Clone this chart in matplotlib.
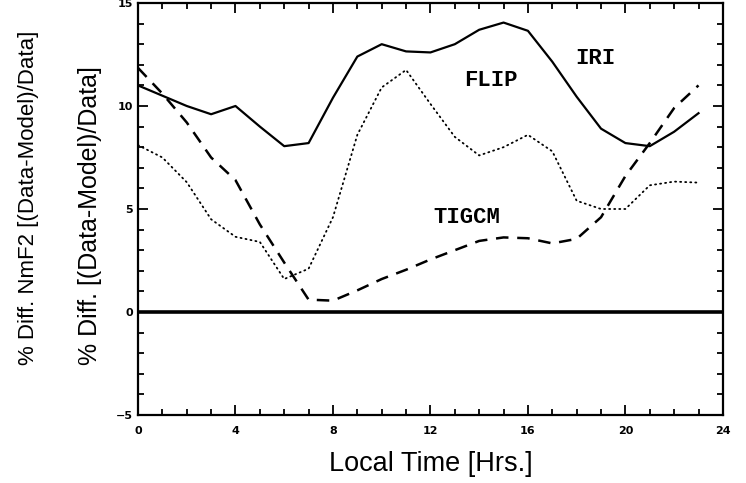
import matplotlib
matplotlib.use("Agg")
import matplotlib.pyplot as plt
from matplotlib.ticker import MultipleLocator

hours = list(range(24))
iri = [11.0, 10.5, 10.0, 9.6, 10.0, 9.0, 8.05, 8.2, 10.4, 12.4, 13.0, 12.65,
       12.6, 13.0, 13.7, 14.05, 13.65, 12.15, 10.45, 8.9, 8.2, 8.05, 8.75, 9.65]
flip = [8.1, 7.5, 6.3, 4.5, 3.65, 3.4, 1.6, 2.1, 4.6, 8.6, 10.9, 11.75,
        10.1, 8.5, 7.6, 8.0, 8.6, 7.8, 5.4, 5.0, 5.0, 6.15, 6.33, 6.28]
tigcm = [11.85, 10.6, 9.2, 7.5, 6.4, 4.25, 2.4, 0.6, 0.55, 1.05, 1.6, 2.05,
         2.55, 3.0, 3.45, 3.62, 3.58, 3.33, 3.55, 4.6, 6.6, 8.2, 9.9, 11.0]
labels = ["IRI", "FLIP", "TIGCM"]
label_pos = [(18.75, 12.3), (14.5, 11.25), (13.5, 4.6)]

fig = plt.figure(figsize=(7.46, 4.83), dpi=100)
ax = fig.add_axes([0.185, 0.1408, 0.784, 0.853])

ax.plot(hours, iri, color="black", lw=1.6, solid_joinstyle="round")
ax.plot(hours, flip, color="black", lw=1.3, linestyle=(0, (0.6, 2.2)), dash_capstyle="round")
ax.plot(hours, tigcm, color="black", lw=1.8, linestyle=(0, (5, 3.5)))
ax.axhline(0, color="black", lw=2.6)

mono = ["Liberation Mono", "DejaVu Sans Mono"]
for name, (x, y) in zip(labels, label_pos):
    ax.text(x, y, name, family=mono, fontweight="bold", fontsize=16,
            ha="center", va="center")

ax.set_xlim(0, 24)
ax.set_ylim(-5, 15)
ax.xaxis.set_major_locator(MultipleLocator(4))
ax.xaxis.set_minor_locator(MultipleLocator(1))
ax.yaxis.set_major_locator(MultipleLocator(5))
ax.yaxis.set_minor_locator(MultipleLocator(1))
ax.tick_params(which="both", direction="in", top=True, right=True, width=1.3,
               labelsize=8)
ax.tick_params(which="major", length=7)
ax.tick_params(which="minor", length=4)
ax.tick_params(axis="x", which="major", pad=8)
for s in ax.spines.values():
    s.set_linewidth(1.6)
for t in ax.get_xticklabels() + ax.get_yticklabels():
    t.set_fontweight("bold")

sans = ["Liberation Sans", "DejaVu Sans"]
ax.set_xlabel("Local Time [Hrs.]", family=sans, fontsize=19.5, labelpad=11)
fig.text(0.038, 0.59, "% Diff. NmF2 [(Data-Model)/Data]", rotation=90,
         family=sans, fontsize=16, ha="center", va="center")
fig.text(0.121, 0.553, "% Diff. [(Data-Model)/Data]", rotation=90,
         family=sans, fontsize=18, ha="center", va="center")

fig.savefig("out.png", dpi=100)
